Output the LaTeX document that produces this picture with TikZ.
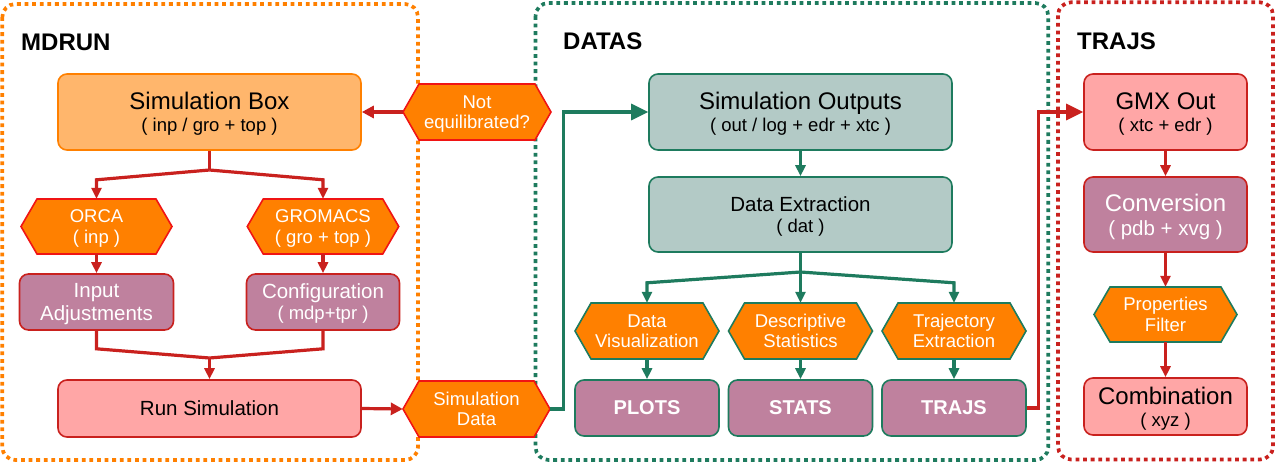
\documentclass[tikz,border=0pt]{standalone}
\usepackage{fontspec}
\setmainfont{Liberation Sans}
\usetikzlibrary{arrows.meta}
\definecolor{cOrange}{HTML}{FF8000}
\definecolor{cLOrange}{HTML}{FFB66C}
\definecolor{cRed}{HTML}{C9211E}
\definecolor{cBRed}{HTML}{F01414}
\definecolor{cGreen}{HTML}{1E7B5E}
\definecolor{cMauve}{HTML}{BF819E}
\definecolor{cPink}{HTML}{FFA6A6}
\definecolor{cTeal}{HTML}{B3CAC6}
\lineskip=0pt
\lineskiplimit=0pt
\newcommand{\lo}{\rule[-0.212em]{0pt}{1.117em}}
\newcommand{\hdl}[1]{{\fontsize{24pt}{0pt}\selectfont\lo #1}}
\newcommand{\mdl}[1]{{\fontsize{20.5pt}{0pt}\selectfont\lo #1}}
\newcommand{\sbl}[1]{{\fontsize{18.5pt}{0pt}\selectfont\lo #1}}
\newcommand{\bdl}[1]{{\fontsize{20pt}{0pt}\selectfont\bfseries\lo #1}}
\newcommand{\hexat}[7]{%
  \filldraw[hexshape, draw=#6] ({#2-#4/2},#3) -- ({#2-#4/2+16},{#3-#5/2}) -- ({#2+#4/2-16},{#3-#5/2}) -- ({#2+#4/2},#3) -- ({#2+#4/2-16},{#3+#5/2}) -- ({#2-#4/2+16},{#3+#5/2}) -- cycle;
  \node[hextext, minimum width=#4pt, minimum height=#5pt] (#1) at (#2,#3) {#7};}
\tikzset{
  grp/.style={line width=3.7pt, dash pattern=on 3.8pt off 3.8pt, rounded corners=13pt},
  grptitle/.style={anchor=base west, inner sep=0pt, font=\fontsize{24pt}{28pt}\selectfont\bfseries},
  box/.style={rectangle, rounded corners=9pt, line width=1.6pt, inner sep=0pt, align=center,
    font=\fontsize{18.5pt}{0pt}\selectfont},
  hexshape/.style={fill=cOrange, line width=1.6pt, line join=miter},
  hextext/.style={rectangle, inner sep=0pt, align=center, text=white,
    font=\fontsize{18.5pt}{0pt}\selectfont},
  rline/.style={draw=cRed, line width=3.2pt},
  gline/.style={draw=cGreen, line width=3.2pt},
  tipS/.style={-{Triangle[length=11pt,width=10pt]}},
  tipM/.style={-{Triangle[length=12pt,width=12pt]}},
  tipL/.style={-{Triangle[length=17pt,width=16pt]}},
}
\begin{document}
\begin{tikzpicture}[x=1pt,y=-1pt]
\useasboundingbox (0,0) rectangle (1275,463);
% groups
\draw[grp, draw=cOrange] (2.3,4) rectangle (418,460);
\draw[grp, draw=cGreen] (535.5,3) rectangle (1048.3,460);
\draw[grp, draw=cRed] (1058,2.3) rectangle (1273,459.5);
\node[grptitle] (tMD) at (21,50) {MDRUN};
\node[grptitle] (tDA) at (563,49) {DATAS};
\node[grptitle] (tTR) at (1077,49) {TRAJS};
% MDRUN
\node[box, fill=cLOrange, draw=cOrange, minimum width=303pt, minimum height=76pt] (simbox) at (209.5,112)
  {\hdl{Simulation Box}\\\sbl{( inp / gro + top )}};
\hexat{orca}{96.5}{226.5}{151}{55}{cBRed}{\lo ORCA\\\lo( inp )}
\hexat{gromacs}{323}{226.5}{151.5}{55}{cBRed}{\lo GROMACS\\\lo( gro + top )}
\node[box, fill=cMauve, draw=cRed, text=white, minimum width=154pt, minimum height=56pt] (inputadj) at (96.5,302)
  {\mdl{Input}\\\mdl{Adjustments}};
\node[box, fill=cMauve, draw=cRed, text=white, minimum width=153pt, minimum height=56pt] (config) at (323,302)
  {\mdl{Configuration}\\\sbl{( mdp+tpr )}};
\node[box, fill=cPink, draw=cRed, minimum width=303pt, minimum height=57pt] (runsim) at (209.5,408.5)
  {\mdl{Run Simulation}};
\hexat{noteq}{477}{112}{148}{56}{cBRed}{\lo Not\\\lo equilibrated?}
\hexat{simdata}{476.5}{409}{147}{56}{cBRed}{\lo Simulation\\\lo Data}
% DATAS
\node[box, fill=cTeal, draw=cGreen, minimum width=303pt, minimum height=76pt] (simout) at (800.5,112)
  {\hdl{Simulation Outputs}\\\sbl{( out / log + edr + xtc )}};
\node[box, fill=cTeal, draw=cGreen, minimum width=303pt, minimum height=75pt] (dataext) at (800.5,214.5)
  {\mdl{Data Extraction}\\\sbl{( dat )}};
\hexat{dataviz}{647}{331}{144}{56}{cGreen}{\lo Data\\\lo Visualization}
\hexat{descstat}{800.5}{331}{144}{56}{cGreen}{\lo Descriptive\\\lo Statistics}
\hexat{trajext}{954}{331}{144}{56}{cGreen}{\lo Trajectory\\\lo Extraction}
\node[box, fill=cMauve, draw=cGreen, text=white, minimum width=144pt, minimum height=56pt] (plots) at (647,408) {\bdl{PLOTS}};
\node[box, fill=cMauve, draw=cGreen, text=white, minimum width=144pt, minimum height=56pt] (stats) at (800.5,408) {\bdl{STATS}};
\node[box, fill=cMauve, draw=cGreen, text=white, minimum width=144pt, minimum height=56pt] (trajs) at (954,408) {\bdl{TRAJS}};
% TRAJS
\node[box, fill=cPink, draw=cRed, minimum width=163pt, minimum height=76pt] (gmxout) at (1165.5,112)
  {\hdl{GMX Out}\\\sbl{( xtc + edr )}};
\node[box, fill=cMauve, draw=cRed, text=white, minimum width=163pt, minimum height=75pt] (conversion) at (1165.5,214.5)
  {\hdl{Conversion}\\\mdl{( pdb + xvg )}};
\hexat{propfilter}{1165.5}{314.5}{143}{55}{cGreen}{\lo Properties\\\lo Filter}
\node[box, fill=cPink, draw=cRed, minimum width=163pt, minimum height=57pt] (combination) at (1165.5,406.5)
  {\hdl{Combination}\\\sbl{( xyz )}};
% connectors MDRUN
\draw[rline, tipM] (noteq.west) -- (simbox.east);
\coordinate (j1) at (209.5,170);
\draw[rline] (simbox.south) -- (j1);
\draw[rline, tipS] (j1) -- ([yshift=19pt]orca.north) -- (orca.north);
\draw[rline, tipS] (j1) -- ([yshift=19pt]gromacs.north) -- (gromacs.north);
\draw[rline, tipS] (orca.south) -- (inputadj.north);
\draw[rline, tipS] (gromacs.south) -- (config.north);
\coordinate (j2) at (209.5,358);
\draw[rline] (inputadj.south) -- ([yshift=-18pt]inputadj.south) -- (j2);
\draw[rline] (config.south) -- ([yshift=-18pt]config.south) -- (j2);
\draw[rline, tipS] (j2) -- (runsim.north);
\draw[rline, tipM] (runsim.east) -- (simdata.west);
% connectors DATAS
\draw[gline, tipL] (simdata.east) -- ++(13,0) |- (simout.west);
\draw[gline, tipS] (simout.south) -- (dataext.north);
\coordinate (j3) at (800.5,272);
\draw[gline] (dataext.south) -- (j3);
\draw[gline, tipS] (j3) -- ([yshift=20pt]dataviz.north) -- (dataviz.north);
\draw[gline, tipS] (j3) -- (descstat.north);
\draw[gline, tipS] (j3) -- ([yshift=20pt]trajext.north) -- (trajext.north);
\draw[gline, tipS] (dataviz.south) -- (plots.north);
\draw[gline, tipS] (descstat.south) -- (stats.north);
\draw[gline, tipS] (trajext.south) -- (trajs.north);
% connectors TRAJS
\draw[rline, tipL] (trajs.east) -- ++(12,0) |- (gmxout.west);
\draw[rline, tipS] (gmxout.south) -- (conversion.north);
\draw[rline, tipS] (conversion.south) -- (propfilter.north);
\draw[rline, tipS] (propfilter.south) -- (combination.north);
\end{tikzpicture}
\end{document}
